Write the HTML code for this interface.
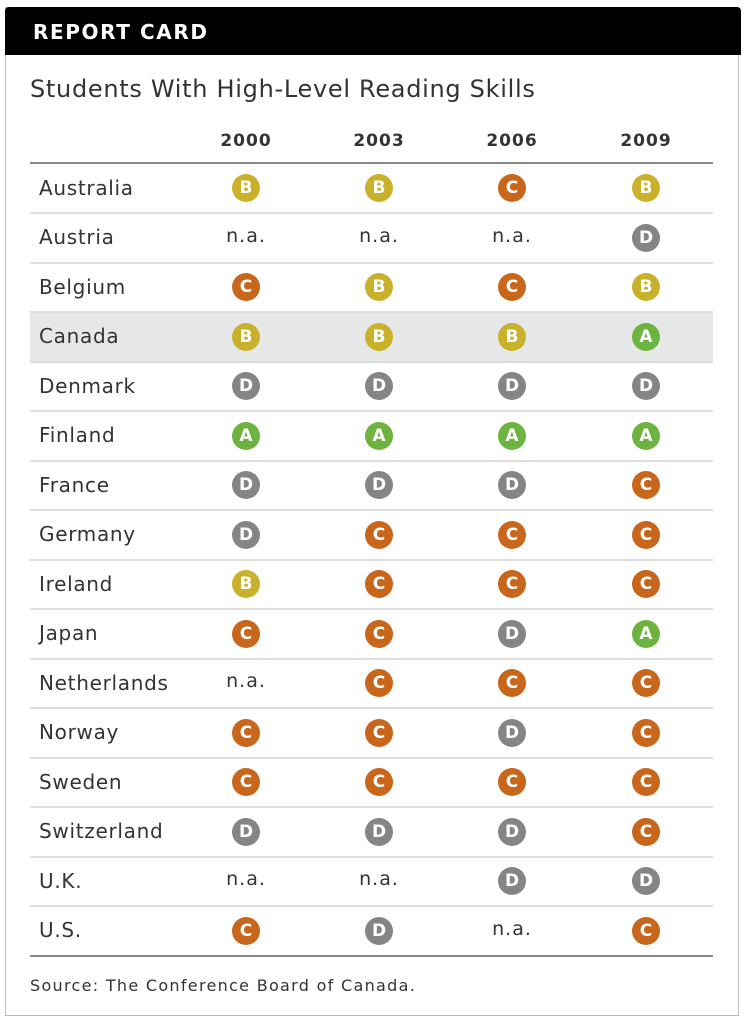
<!DOCTYPE html>
<html><head><style>
body{margin:0;width:747px;height:1024px;background:#fff;font-family:"DejaVu Sans","Liberation Sans",sans-serif;position:relative;overflow:hidden}
.box{position:absolute;left:5px;top:7px;width:734px;height:1009px;border:1px solid #bbb;box-sizing:border-box}
.hd{position:absolute;left:5px;top:7px;width:736px;height:48px;background:#000;border-radius:4px 4px 0 0}
.hd span{position:absolute;left:28px;top:13px;color:#fff;font-weight:bold;font-size:20px;letter-spacing:1.6px}
.t{position:absolute;left:30px;top:75px;font-size:24px;color:#333;letter-spacing:0.7px}
.yr{position:absolute;top:131px;width:80px;margin-left:-40px;text-align:center;font-weight:bold;font-size:17px;color:#333;letter-spacing:1px}
.ln{position:absolute;left:30px;width:683px;height:2px;background:#ddd}
.row{position:absolute;left:30px;width:683px;height:49px}
.c{position:absolute;width:28px;height:28px;margin-left:-14px;border-radius:50%;color:#fff;font-weight:bold;font-size:17px;text-align:center;line-height:28px}
.na{position:absolute;width:80px;margin-left:-40px;text-align:center;font-size:19px;color:#333;letter-spacing:1px}
.A{background:#6db33f}.B{background:#c9b12b}.C{background:#c8661c}.D{background:#858585}
.src{position:absolute;left:30px;top:976px;font-size:16px;color:#333;letter-spacing:1.3px}
</style></head><body>
<div class="box"></div>
<div class="hd"><span>REPORT CARD</span></div>
<div class="t">Students With High-Level Reading Skills</div>
<div class="yr" style="left:246px">2000</div>
<div class="yr" style="left:379px">2003</div>
<div class="yr" style="left:512px">2006</div>
<div class="yr" style="left:646px">2009</div>
<div class="ln" style="top:162px;background:#888"></div>
<div id="rows"></div>
<div class="src">Source: The Conference Board of Canada.</div>
<script>
var d=[["Australia","BBCB"],["Austria","nnnD"],["Belgium","CBCB"],["Canada","BBBA"],["Denmark","DDDD"],["Finland","AAAA"],["France","DDDC"],["Germany","DCCC"],["Ireland","BCCC"],["Japan","CCDA"],["Netherlands","nCCC"],["Norway","CCDC"],["Sweden","CCCC"],["Switzerland","DDDC"],["U.K.","nnDD"],["U.S.","CDnC"]];
var xs=[246,379,512,646],h="";
d.forEach(function(r,i){var cy=188+i*49.5;var top=cy-24.5;
if(r[0]=="Canada")h+='<div class="row" style="top:'+(top+0.5)+'px;background:#e6e7e7"></div>';
h+='<div style="top:'+top+'px;left:39px;position:absolute;line-height:49px;font-size:20px;color:#333;letter-spacing:0.7px">'+r[0]+'</div>';
for(var j=0;j<4;j++){var g=r[1][j];
if(g=="n")h+='<div class="na" style="left:'+xs[j]+'px;top:'+(cy-13)+'px">n.a.</div>';
else h+='<div class="c '+g+'" style="left:'+xs[j]+'px;top:'+(cy-14)+'px">'+g+'</div>';}
h+='<div class="ln" style="top:'+(cy+24)+'px;'+(i==15?'background:#888':'')+'"></div>';});
document.getElementById("rows").outerHTML=h;
</script>
</body></html>
